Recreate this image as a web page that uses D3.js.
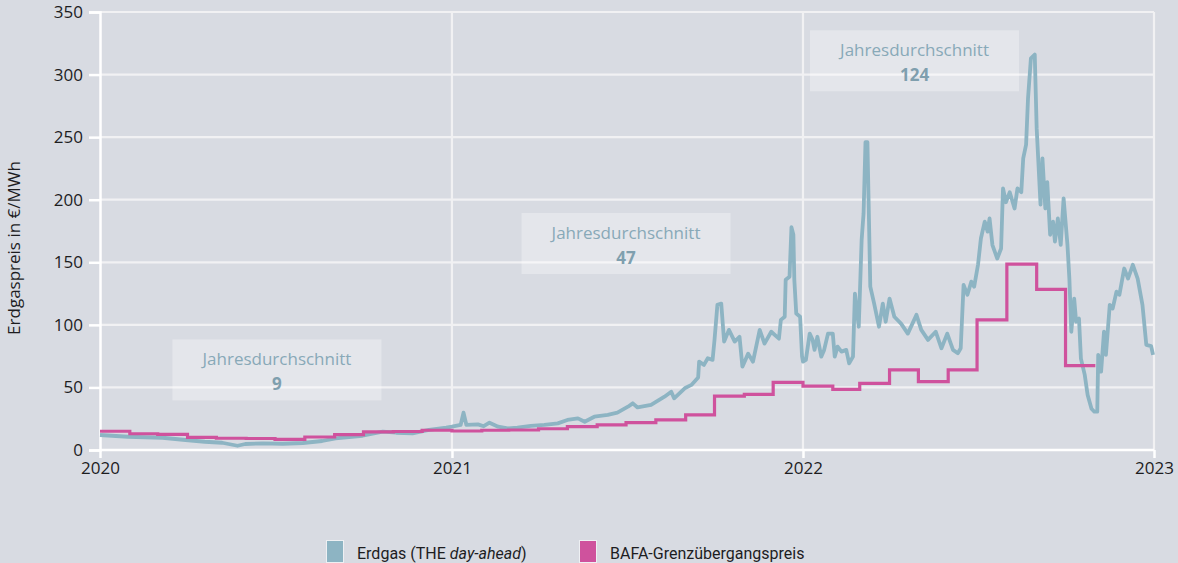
<!DOCTYPE html>
<html><head><meta charset="utf-8">
<script src="https://cdn.jsdelivr.net/npm/d3@7"></script>
<style>
html,body{margin:0;padding:0;background:#d8dbe2;}
svg{display:block;font-family:Roboto, "Open Sans", sans-serif;}
</style></head>
<body><svg id="c" width="1178" height="563"></svg>
<script>
// ---- data ----
const gasDates = [
"2020-01-01","2020-01-30","2020-03-06","2020-03-30","2020-04-19","2020-05-07","2020-05-23","2020-05-31","2020-06-18","2020-07-09","2020-07-30","2020-08-19","2020-09-02","2020-09-30","2020-10-21","2020-11-04","2020-11-21","2020-12-08","2020-12-26",
"2021-01-01","2021-01-10","2021-01-13","2021-01-16","2021-01-28","2021-02-03","2021-02-09","2021-02-18","2021-02-28","2021-03-10","2021-03-24","2021-04-07","2021-04-21","2021-05-01","2021-05-12","2021-05-19","2021-05-29","2021-06-12","2021-06-22","2021-07-03","2021-07-08","2021-07-13","2021-07-27","2021-08-10","2021-08-17","2021-08-20","2021-08-31","2021-09-07","2021-09-14","2021-09-15","2021-09-20","2021-09-24","2021-09-29","2021-10-01","2021-10-04","2021-10-08","2021-10-11","2021-10-16","2021-10-22","2021-10-27","2021-10-30","2021-11-05","2021-11-10","2021-11-17","2021-11-22","2021-11-29","2021-12-07","2021-12-09","2021-12-13","2021-12-14","2021-12-18","2021-12-20","2021-12-22","2021-12-23","2021-12-25","2021-12-29","2021-12-31",
"2022-01-01","2022-01-04","2022-01-08","2022-01-11","2022-01-13","2022-01-16","2022-01-20","2022-01-23","2022-01-27","2022-02-01","2022-02-03","2022-02-06","2022-02-10","2022-02-15","2022-02-18","2022-02-22","2022-02-24","2022-02-28","2022-03-03","2022-03-05","2022-03-07","2022-03-09","2022-03-12","2022-03-16","2022-03-21","2022-03-25","2022-03-28","2022-04-01","2022-04-06","2022-04-13","2022-04-20","2022-04-29","2022-05-04","2022-05-11","2022-05-19","2022-05-25","2022-05-31","2022-06-06","2022-06-11","2022-06-14","2022-06-17","2022-06-21","2022-06-25","2022-06-28","2022-07-02","2022-07-05","2022-07-09","2022-07-12","2022-07-14","2022-07-17","2022-07-22","2022-07-26","2022-07-28","2022-07-31","2022-08-04","2022-08-09","2022-08-12","2022-08-16","2022-08-18","2022-08-21","2022-08-23","2022-08-26","2022-08-30","2022-09-01","2022-09-05","2022-09-07","2022-09-10","2022-09-12","2022-09-15","2022-09-18","2022-09-20","2022-09-23","2022-09-26","2022-09-29","2022-10-03","2022-10-05","2022-10-07","2022-10-10","2022-10-12","2022-10-15","2022-10-17","2022-10-21","2022-10-24","2022-10-28","2022-10-31","2022-11-03","2022-11-04","2022-11-07","2022-11-10","2022-11-12","2022-11-16","2022-11-19","2022-11-23","2022-11-26","2022-12-01","2022-12-05","2022-12-10","2022-12-15","2022-12-20","2022-12-24","2022-12-29","2022-12-31"
];
const gasValues = [
12,10.6,9.8,8,6.6,5.8,3.4,4.8,5.3,5,5.6,7.2,9.3,11.4,14.6,13.8,13.3,16,17.8,
18.6,20,29.8,20,20.5,19,21.8,18.6,17.3,17.9,19.2,20,21.3,24,25.3,22.6,26.6,28,29.8,34.6,37.3,34,36,42.6,46.6,41.3,49.3,52,58,70.6,68,73.3,72,88,116,117,86.6,96,86.6,90.5,66.6,77,70.6,96,85,94.5,89,104,106.5,136,138.5,178,172,136,109,106.5,75,
70.6,72,93,88,80,90.5,74.6,80,93,93,74.6,82.6,78.6,80,69.3,74.6,125,98.5,168,189,246,246,130.5,117,98.5,117,102.5,121,106.5,101,93,108,96,88,94.5,81.3,93,80,77.3,81.3,132,124,134.5,130.5,148,169,182.5,174.5,185,163.8,153,161,209,198,206,193,209,206,233,244,281,313,316,257,196,233,193,214,172,182.5,166.5,185,164,201,164,137,94.5,121,102.5,105,73,60,44,33,30.6,30.6,76,62.6,94.5,76,116,113,126.5,124,145,137,148,137,116,84,83,76
];
const bafaMonths = [
"2020-01-01","2020-02-01","2020-03-01","2020-04-01","2020-05-01","2020-06-01","2020-07-01","2020-08-01","2020-09-01","2020-10-01","2020-11-01","2020-12-01",
"2021-01-01","2021-02-01","2021-03-01","2021-04-01","2021-05-01","2021-06-01","2021-07-01","2021-08-01","2021-09-01","2021-10-01","2021-11-01","2021-12-01",
"2022-01-01","2022-02-01","2022-03-01","2022-04-01","2022-05-01","2022-06-01","2022-07-01","2022-08-01","2022-09-01","2022-10-01","2022-11-01"
];
const bafaValues = [
15,13,12.5,10.1,9.4,9.2,8.5,10.4,12.3,14.5,14.8,15.8,
15.2,15.8,16,17,18.6,20,21.8,24,28,43,44.5,54,
51,48.5,53.3,64,54.6,64,104,148.6,128.4,67.4,67.4
];
const yTicks = [0,50,100,150,200,250,300,350];
const xTicks = ["2020-01-01","2021-01-01","2022-01-01","2023-01-01"];
const xTickLabels = ["2020","2021","2022","2023"];
const avgLabels = ["9","47","124"];
const avgAnchorDates = ["2020-07-03","2021-07-01","2022-04-27"];
const avgAnchorValues = [64,165,311];
const seriesNames = ["Erdgas (THE ", "BAFA-Grenzübergangspreis"];

// ---- drawing ----
const parse = d3.timeParse("%Y-%m-%d");
const svg = d3.select("#c");
const x = d3.scaleTime().domain([parse("2020-01-01"), parse("2023-01-01")]).range([100, 1154]);
const y = d3.scaleLinear().domain([0, 350]).range([450, 12]);
const gasCol = "#8db4c3", bafaCol = "#cf529d", gridCol = "#f1f1f3";
const wideFont = "'Open Sans', sans-serif";

// grid
svg.append("g").selectAll("line").data(yTicks.slice(1)).join("line")
  .attr("x1", 100).attr("x2", x(parse("2023-01-01")))
  .attr("y1", d => y(d)).attr("y2", d => y(d))
  .attr("stroke", gridCol).attr("stroke-width", 2.2);
svg.append("g").selectAll("line").data(xTicks.slice(1)).join("line")
  .attr("x1", d => x(parse(d))).attr("x2", d => x(parse(d)))
  .attr("y1", y(350)).attr("y2", y(0))
  .attr("stroke", gridCol).attr("stroke-width", 2.2);

// axes
const yAxis = svg.append("g").attr("transform", "translate(100,0)")
  .call(d3.axisLeft(y).tickValues(yTicks).tickSize(11).tickPadding(6));
const xAxis = svg.append("g").attr("transform", `translate(0,${y(0)})`)
  .call(d3.axisBottom(x).tickValues(xTicks.map(parse)).tickSize(8).tickPadding(4)
    .tickFormat((d, i) => xTickLabels[i]));
[yAxis, xAxis].forEach(a => {
  a.select(".domain").attr("stroke", "#ffffff").attr("stroke-width", 2.5);
  a.selectAll(".tick line").attr("stroke", "#ffffff").attr("stroke-width", 2.5);
  a.selectAll(".tick text").attr("fill", "#1d1d1f").attr("font-size", 17).attr("font-family", wideFont);
});
xAxis.select(".domain").attr("d", `M100,0H${x(parse("2023-01-01"))}`);

// y title
svg.append("text").attr("transform", `translate(20,${248}) rotate(-90)`)
  .attr("text-anchor", "middle").attr("font-size", 17).attr("fill", "#1d1d1f")
  .attr("font-family", wideFont)
  .text("Erdgaspreis in €/MWh");

// annotations
avgLabels.forEach((lab, i) => {
  const cx = x(parse(avgAnchorDates[i])), cy = y(avgAnchorValues[i]);
  const g = svg.append("g");
  g.append("rect").attr("x", cx - 104.5).attr("y", cy - 30.5).attr("width", 209).attr("height", 61)
    .attr("fill", "#ffffff").attr("fill-opacity", 0.32);
  g.append("text").attr("x", cx).attr("y", cy - 5).attr("text-anchor", "middle")
    .attr("font-family", wideFont)
    .attr("font-size", 17).attr("fill", "#88a9b8").text("Jahresdurchschnitt");
  g.append("text").attr("x", cx).attr("y", cy + 20).attr("text-anchor", "middle")
    .attr("font-family", wideFont)
    .attr("font-size", 17).attr("font-weight", "bold").attr("fill", "#7f9fae").text(lab);
});

// lines
const gas = gasDates.map((d, i) => ({d: parse(d), v: gasValues[i]}));
const bafa = bafaMonths.map((d, i) => ({d: parse(d), v: bafaValues[i]}));
svg.append("path").datum(gas)
  .attr("d", d3.line().x(p => x(p.d)).y(p => y(p.v)))
  .attr("fill", "none").attr("stroke", gasCol).attr("stroke-width", 3.8)
  .attr("stroke-linejoin", "round");
svg.append("path").datum(bafa)
  .attr("d", d3.line().curve(d3.curveStepAfter).x(p => x(p.d)).y(p => y(p.v)))
  .attr("fill", "none").attr("stroke", bafaCol).attr("stroke-width", 3.2);

// legend
const lg = svg.append("g");
lg.append("rect").attr("x", 326.5).attr("y", 540.5).attr("width", 17).attr("height", 22)
  .attr("fill", gasCol).attr("stroke", "#eef0f3").attr("stroke-width", 1);
const t1 = lg.append("text").attr("x", 357).attr("y", 559).attr("font-size", 16).attr("fill", "#1d1d1f");
t1.append("tspan").text(seriesNames[0]);
t1.append("tspan").attr("font-style", "italic").text("day-ahead");
t1.append("tspan").text(")");
lg.append("rect").attr("x", 579.5).attr("y", 540.5).attr("width", 17).attr("height", 22)
  .attr("fill", bafaCol).attr("stroke", "#eef0f3").attr("stroke-width", 1);
lg.append("text").attr("x", 610).attr("y", 559).attr("font-size", 16).attr("fill", "#1d1d1f")
  .text(seriesNames[1]);
</script></body></html>
